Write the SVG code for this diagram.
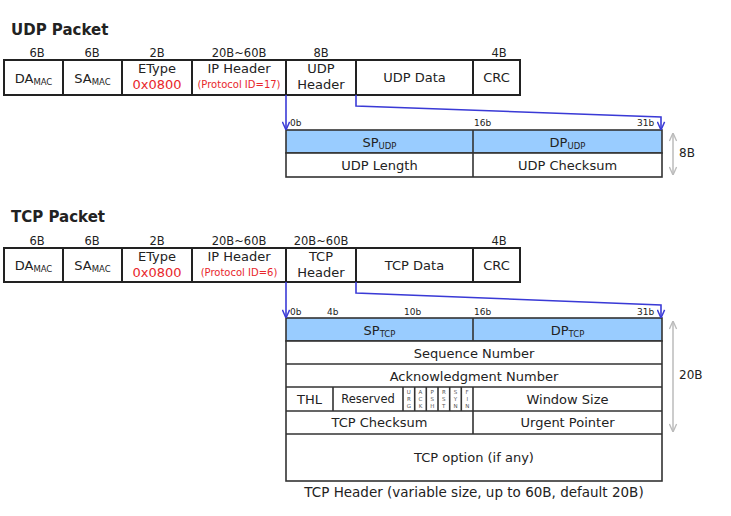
<svg xmlns="http://www.w3.org/2000/svg" width="731" height="516" viewBox="0 0 731 516">
<defs>
<style>
text{font-family:"DejaVu Sans","Liberation Sans",sans-serif;fill:#222;text-anchor:middle}
.title{font-size:15px;font-weight:bold;text-anchor:start}
.sz{font-size:11.5px}
.dl{font-size:12px;text-anchor:start}
.t{font-size:13px}
.red{font-size:13px;fill:#e8262b}
.redsm{font-size:10px;fill:#e8262b}
.sub{font-size:8.5px}
.bit{font-size:9px;text-anchor:start}
.flag{font-size:5.5px;fill:#555}
.cell{fill:#fff;stroke:#333;stroke-width:1.6}
.row{fill:#fff;stroke:#222;stroke-width:2}
.hd{fill:#99ccff;stroke:#333;stroke-width:1.6}
.ln{stroke:#333;stroke-width:1.6;fill:none}
.conn{stroke:#3a3ad6;stroke-width:1.6;fill:none}
.dim{stroke:#bbb;stroke-width:1.5;fill:none}
</style>
<marker id="ab" viewBox="0 0 10 10" refX="10" refY="5" markerWidth="9" markerHeight="9" orient="auto" markerUnits="userSpaceOnUse">
<path d="M1,1 L10,5 L1,9" fill="none" stroke="#3a3ad6" stroke-width="1.6"/>
</marker>
<marker id="dg" viewBox="0 0 10 10" refX="10" refY="5" markerWidth="9" markerHeight="9" orient="auto-start-reverse" markerUnits="userSpaceOnUse">
<path d="M1,1 L10,5 L1,9" fill="none" stroke="#bbb" stroke-width="1.5"/>
</marker>
</defs>

<!-- UDP packet -->
<g id="udp-packet">
<text class="title" x="11" y="35">UDP Packet</text>
<g class="sizes">
<text class="sz" x="37" y="57">6B</text>
<text class="sz" x="92" y="57">6B</text>
<text class="sz" x="157" y="57">2B</text>
<text class="sz" x="239" y="57">20B~60B</text>
<text class="sz" x="321" y="57">8B</text>
<text class="sz" x="499" y="57">4B</text>
</g>
<rect class="row" x="4" y="60" width="516" height="35"/>
<path class="ln" d="M63,60V95M122,60V95M192,60V95M286,60V95M356,60V95M473,60V95" style="stroke:#222;stroke-width:2"/>
<text class="t" x="33.5" y="83">DA<tspan class="sub" dy="2">MAC</tspan></text>
<text class="t" x="92.5" y="83">SA<tspan class="sub" dy="2">MAC</tspan></text>
<text class="t" x="157" y="73">EType</text>
<text class="red" x="157" y="89">0x0800</text>
<text class="t" x="239" y="73">IP Header</text>
<text class="redsm" x="239" y="88">(Protocol ID=17)</text>
<text class="t" x="321" y="73">UDP</text>
<text class="t" x="321" y="89">Header</text>
<text class="t" x="414.5" y="82">UDP Data</text>
<text class="t" x="496.5" y="82">CRC</text>
</g>

<g id="udp-header">
<text class="bit" x="290" y="126">0b</text>
<text class="bit" x="474" y="126">16b</text>
<text class="bit" x="637" y="126">31b</text>
<rect class="hd" x="286" y="130" width="376" height="23"/>
<rect class="cell" x="286" y="153" width="376" height="24"/>
<path class="ln" d="M473,130V177"/>
<text class="t" x="379.5" y="147">SP<tspan class="sub" dy="2">UDP</tspan></text>
<text class="t" x="567.5" y="147">DP<tspan class="sub" dy="2">UDP</tspan></text>
<text class="t" x="379.5" y="170">UDP Length</text>
<text class="t" x="567.5" y="170">UDP Checksum</text>
<path class="dim" d="M673,133V175" marker-start="url(#dg)" marker-end="url(#dg)"/>
<text class="dl" x="679" y="157">8B</text>
</g>

<!-- TCP packet -->
<g id="tcp-packet">
<text class="title" x="11" y="222">TCP Packet</text>
<g class="sizes">
<text class="sz" x="37" y="245">6B</text>
<text class="sz" x="92" y="245">6B</text>
<text class="sz" x="157" y="245">2B</text>
<text class="sz" x="239" y="245">20B~60B</text>
<text class="sz" x="321" y="245">20B~60B</text>
<text class="sz" x="499" y="245">4B</text>
</g>
<rect class="row" x="4" y="248" width="516" height="34"/>
<path class="ln" d="M63,248V282M122,248V282M192,248V282M286,248V282M356,248V282M473,248V282" style="stroke:#222;stroke-width:2"/>
<text class="t" x="33.5" y="270">DA<tspan class="sub" dy="2">MAC</tspan></text>
<text class="t" x="92.5" y="270">SA<tspan class="sub" dy="2">MAC</tspan></text>
<text class="t" x="157" y="261">EType</text>
<text class="red" x="157" y="277">0x0800</text>
<text class="t" x="239" y="261">IP Header</text>
<text class="redsm" x="239" y="276">(Protocol ID=6)</text>
<text class="t" x="321" y="261">TCP</text>
<text class="t" x="321" y="277">Header</text>
<text class="t" x="414.5" y="270">TCP Data</text>
<text class="t" x="496.5" y="270">CRC</text>
</g>

<g id="tcp-header">
<text class="bit" x="290" y="315">0b</text>
<text class="bit" x="327" y="315">4b</text>
<text class="bit" x="404" y="315">10b</text>
<text class="bit" x="474" y="315">16b</text>
<text class="bit" x="637" y="315">31b</text>
<rect class="hd" x="286" y="318" width="376" height="23"/>
<rect class="cell" x="286" y="341" width="376" height="140"/>
<path class="ln" d="M286,364H662M286,387H662M286,411H662M286,434H662M473,318V341M473,387V434M333,387V411M403,387V411M414.7,387V411M426.3,387V411M438,387V411M449.7,387V411M461.3,387V411"/>
<text class="t" x="379.5" y="335">SP<tspan class="sub" dy="2">TCP</tspan></text>
<text class="t" x="567.5" y="335">DP<tspan class="sub" dy="2">TCP</tspan></text>
<text class="t" x="474" y="358">Sequence Number</text>
<text class="t" x="474" y="381">Acknowledgment Number</text>
<text class="t" x="309.5" y="404">THL</text>
<text class="sz" x="368" y="403">Reserved</text>
<g class="flags">
<text class="flag" x="408.8" y="394">U</text><text class="flag" x="408.8" y="401">R</text><text class="flag" x="408.8" y="408">G</text>
<text class="flag" x="420.5" y="394">A</text><text class="flag" x="420.5" y="401">C</text><text class="flag" x="420.5" y="408">K</text>
<text class="flag" x="432.2" y="394">P</text><text class="flag" x="432.2" y="401">S</text><text class="flag" x="432.2" y="408">H</text>
<text class="flag" x="443.8" y="394">R</text><text class="flag" x="443.8" y="401">S</text><text class="flag" x="443.8" y="408">T</text>
<text class="flag" x="455.5" y="394">S</text><text class="flag" x="455.5" y="401">Y</text><text class="flag" x="455.5" y="408">N</text>
<text class="flag" x="467.2" y="394">F</text><text class="flag" x="467.2" y="401">I</text><text class="flag" x="467.2" y="408">N</text>
</g>
<text class="t" x="567.5" y="404">Window Size</text>
<text class="t" x="379.5" y="427">TCP Checksum</text>
<text class="t" x="567.5" y="427">Urgent Pointer</text>
<text class="t" x="474" y="462">TCP option (if any)</text>
<text class="t" x="474" y="497" style="font-size:13.5px">TCP Header (variable size, up to 60B, default 20B)</text>
<path class="dim" d="M673,321V432" marker-start="url(#dg)" marker-end="url(#dg)"/>
<text class="dl" x="679" y="379">20B</text>
</g>

<g id="connectors">
<path class="conn" d="M286,95V130" marker-end="url(#ab)"/>
<path class="conn" d="M356,95V106L661,117V130" marker-end="url(#ab)"/>
<path class="conn" d="M286,282V318" marker-end="url(#ab)"/>
<path class="conn" d="M356,282V293L661,305V318" marker-end="url(#ab)"/>
</g>
</svg>
